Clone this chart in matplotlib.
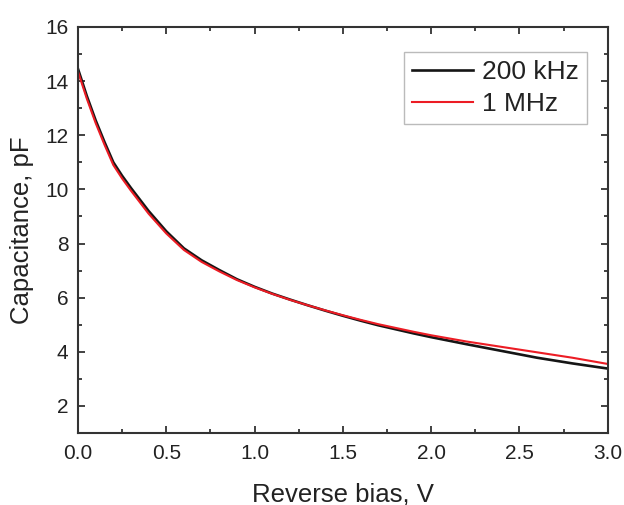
import matplotlib
matplotlib.use("Agg")
import matplotlib.pyplot as plt
from matplotlib.ticker import MultipleLocator, FormatStrFormatter

plt.rcParams['font.family'] = ['Liberation Sans', 'DejaVu Sans']

bias = [0.0, 0.02, 0.05, 0.1, 0.15, 0.2, 0.25, 0.3, 0.4, 0.5, 0.6, 0.7, 0.8, 0.9,
        1.0, 1.1, 1.2, 1.3, 1.4, 1.5, 1.6, 1.7, 1.8, 1.9, 2.0, 2.2, 2.4, 2.6, 2.8, 3.0]
cap_200k = [14.45, 14.05, 13.45, 12.55, 11.75, 11.0, 10.5, 10.05, 9.2, 8.45, 7.82, 7.38,
            7.02, 6.68, 6.40, 6.15, 5.93, 5.72, 5.52, 5.33, 5.15, 4.98, 4.83, 4.68, 4.54,
            4.28, 4.03, 3.78, 3.57, 3.38]
cap_1M = [14.35, 13.95, 13.35, 12.45, 11.65, 10.9, 10.4, 9.95, 9.1, 8.37, 7.76, 7.32,
          6.97, 6.65, 6.38, 6.14, 5.92, 5.72, 5.53, 5.35, 5.18, 5.02, 4.88, 4.74, 4.61,
          4.38, 4.18, 3.98, 3.78, 3.55]
labels = ["200 kHz", "1 MHz"]

fig = plt.figure(figsize=(6.24, 5.05), dpi=100)
ax = fig.add_axes([0.125, 0.1426, 0.849, 0.804])

ax.plot(bias, cap_200k, color='#151515', lw=1.9, label=labels[0])
ax.plot(bias, cap_1M, color='#ec1c24', lw=1.5, label=labels[1])

ax.set_xlim(0, 3.0)
ax.set_ylim(1, 16)
ax.xaxis.set_major_locator(MultipleLocator(0.5))
ax.xaxis.set_minor_locator(MultipleLocator(0.25))
ax.xaxis.set_major_formatter(FormatStrFormatter('%.1f'))
ax.set_yticks([2, 4, 6, 8, 10, 12, 14, 16])
ax.yaxis.set_minor_locator(MultipleLocator(1))

ax.tick_params(which='both', direction='in', top=True, right=True, colors='#333333',
               labelcolor='#222222', labelsize=15, width=1.3)
ax.tick_params(which='major', length=5)
ax.tick_params(which='minor', length=3)
ax.tick_params(axis='x', pad=8)
ax.tick_params(axis='y', pad=7)
for s in ax.spines.values():
    s.set_linewidth(1.5)
    s.set_color('#333333')

ax.set_xlabel("Reverse bias, V", fontsize=18.5, color='#222222', labelpad=14)
ax.set_ylabel("Capacitance, pF", fontsize=18.5, color='#222222', labelpad=8)

leg = ax.legend(loc='upper right', bbox_to_anchor=(0.96, 0.938), fontsize=19,
                handlelength=2.3, fancybox=False, framealpha=1, edgecolor='#bbbbbb',
                borderpad=0.3, labelspacing=0.3, handletextpad=0.35, borderaxespad=0)
leg.get_frame().set_linewidth(1.0)
for t in leg.get_texts():
    t.set_color('#222222')

fig.savefig("out.png", dpi=100)
